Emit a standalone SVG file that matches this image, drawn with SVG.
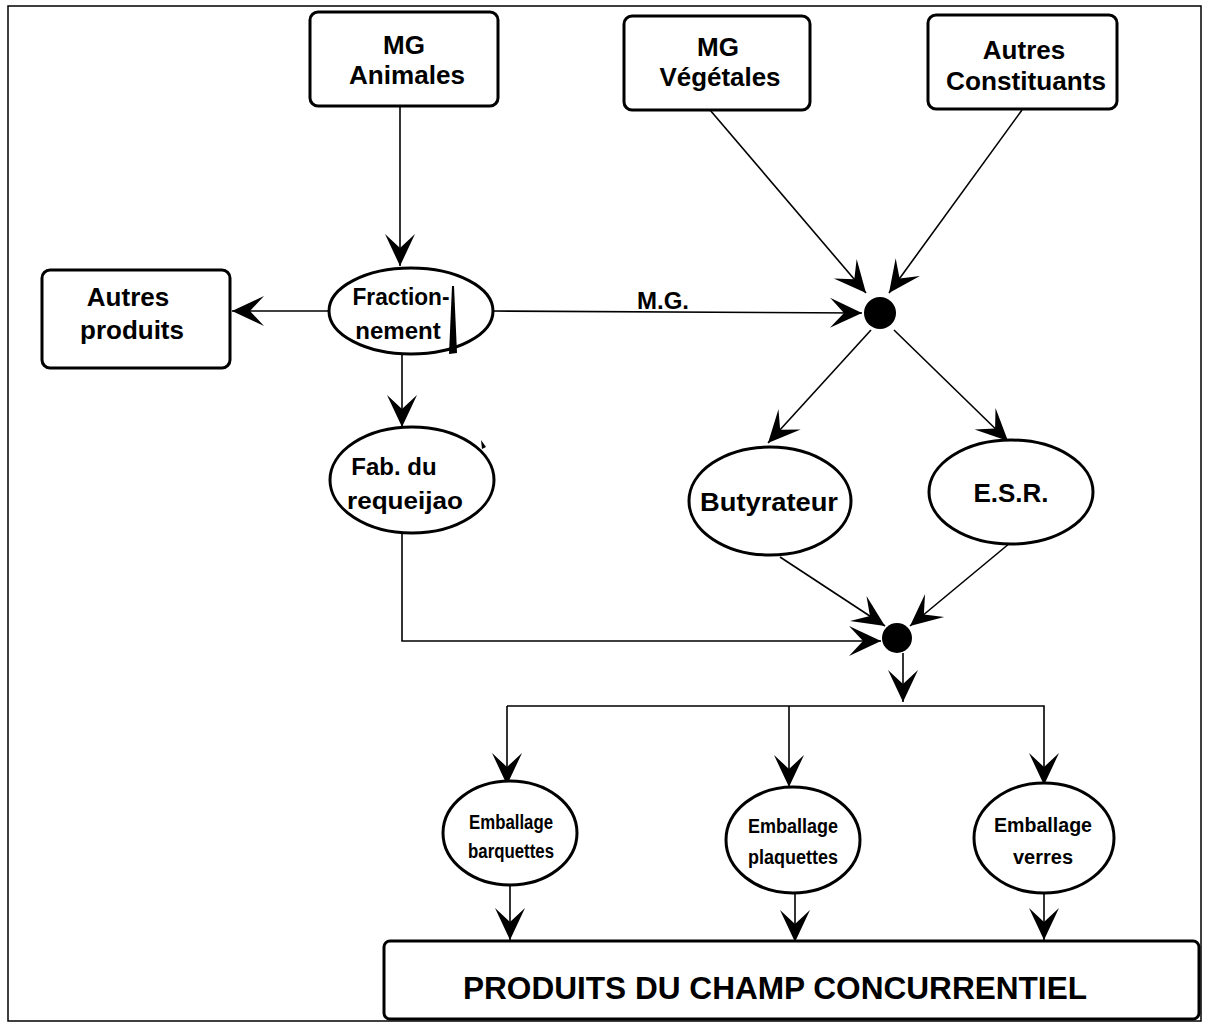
<svg xmlns="http://www.w3.org/2000/svg" width="1209" height="1027" viewBox="0 0 1209 1027">
<style>
.box{fill:#fff;stroke:#000;stroke-width:3}
.ell{fill:#fff;stroke:#000;stroke-width:3}
.ln{fill:none;stroke:#000;stroke-width:1.6}
.t{font-family:"Liberation Sans",Arial,sans-serif;font-weight:bold;fill:#000;text-anchor:middle}
.l26{font-size:26px}
.l24{font-size:24px}
.l20{font-size:20px}
</style>
<defs>
<marker id="ah" markerUnits="userSpaceOnUse" viewBox="-34 -17 36 34" refX="0" refY="0" markerWidth="36" markerHeight="34" orient="auto">
<path d="M0,0 L-32,-15 L-18,0 L-32,15 Z" fill="#000"/>
</marker>
</defs>
<rect x="0" y="0" width="1209" height="1027" fill="#fff"/>
<rect x="8" y="6" width="1193" height="1015" fill="none" stroke="#000" stroke-width="1.5"/>

<g id="connectors">
<line class="ln" x1="400" y1="106" x2="400" y2="266" marker-end="url(#ah)"/>
<line class="ln" x1="330" y1="311" x2="232" y2="311" marker-end="url(#ah)"/>
<line class="ln" x1="492" y1="311" x2="862" y2="313" marker-end="url(#ah)"/>
<text class="t l24" x="663" y="309">M.G.</text>
<line class="ln" x1="710" y1="110" x2="866" y2="293" marker-end="url(#ah)"/>
<line class="ln" x1="1022" y1="110" x2="889" y2="293" marker-end="url(#ah)"/>
<line class="ln" x1="871" y1="330" x2="768" y2="443" marker-end="url(#ah)"/>
<line class="ln" x1="894" y1="330" x2="1008" y2="441" marker-end="url(#ah)"/>
<line class="ln" x1="402" y1="355" x2="402" y2="427" marker-end="url(#ah)"/>
<polyline class="ln" points="402,533 402,641 881,641" marker-end="url(#ah)"/>
<line class="ln" x1="780" y1="557" x2="885" y2="626" marker-end="url(#ah)"/>
<line class="ln" x1="1010" y1="543" x2="910" y2="626" marker-end="url(#ah)"/>
<line class="ln" x1="903" y1="653" x2="903" y2="702" marker-end="url(#ah)"/>
<polyline class="ln" points="507,706 1044,706 1044,785" marker-end="url(#ah)"/>
<line class="ln" x1="507" y1="706" x2="507" y2="785" marker-end="url(#ah)"/>
<line class="ln" x1="789" y1="706" x2="789" y2="787" marker-end="url(#ah)"/>
<line class="ln" x1="510" y1="885" x2="510" y2="940" marker-end="url(#ah)"/>
<line class="ln" x1="795" y1="891" x2="795" y2="942" marker-end="url(#ah)"/>
<line class="ln" x1="1044" y1="893" x2="1044" y2="940" marker-end="url(#ah)"/>
</g>

<g id="mg-animales">
<rect class="box" x="310" y="12" width="188" height="94" rx="8"/>
<text class="t l26" x="404" y="54">MG</text>
<text class="t l26" x="407" y="84" textLength="116" lengthAdjust="spacingAndGlyphs">Animales</text>
</g>
<g id="mg-vegetales">
<rect class="box" x="624" y="16" width="186" height="94" rx="8"/>
<text class="t l26" x="718" y="56">MG</text>
<text class="t l26" x="720" y="86" textLength="121" lengthAdjust="spacingAndGlyphs">Végétales</text>
</g>
<g id="autres-constituants">
<rect class="box" x="928" y="15" width="189" height="94" rx="8"/>
<text class="t l26" x="1024" y="59">Autres</text>
<text class="t l26" x="1026" y="90" textLength="160" lengthAdjust="spacingAndGlyphs">Constituants</text>
</g>
<g id="autres-produits">
<rect class="box" x="42" y="270" width="188" height="98" rx="8"/>
<text class="t l26" x="128" y="306">Autres</text>
<text class="t l26" x="132" y="339">produits</text>
</g>
<g id="fractionnement">
<ellipse class="ell" cx="411" cy="311" rx="82" ry="43"/>
<text class="t l24" x="401" y="305" textLength="97" lengthAdjust="spacingAndGlyphs">Fraction-</text>
<text class="t l24" x="398" y="339">nement</text>
<path d="M452,286 L454,286 L457,353 L449,354 Z" fill="#000"/>
</g>
<g id="fab-requeijao">
<ellipse class="ell" cx="412" cy="480" rx="82" ry="53"/>
<path d="M481,440 L486,447 L482,449 Z" fill="#000"/>
<text class="t l24" x="394" y="475">Fab. du</text>
<text class="t l24" x="405" y="509" textLength="116" lengthAdjust="spacingAndGlyphs">requeijao</text>
</g>
<g id="dot1"><circle cx="880" cy="313" r="16" fill="#000"/></g>
<g id="butyrateur">
<ellipse class="ell" cx="770" cy="501" rx="81" ry="54"/>
<text class="t l26" x="769" y="511" textLength="138" lengthAdjust="spacingAndGlyphs">Butyrateur</text>
</g>
<g id="esr">
<ellipse class="ell" cx="1011" cy="492" rx="82" ry="52"/>
<text class="t l26" x="1011" y="502">E.S.R.</text>
</g>
<g id="dot2"><circle cx="897" cy="638" r="15" fill="#000"/></g>
<g id="emb-barquettes">
<ellipse class="ell" cx="510" cy="833" rx="67" ry="52"/>
<text class="t l20" x="511" y="829" textLength="84" lengthAdjust="spacingAndGlyphs">Emballage</text>
<text class="t l20" x="511" y="858" textLength="86" lengthAdjust="spacingAndGlyphs">barquettes</text>
</g>
<g id="emb-plaquettes">
<ellipse class="ell" cx="793" cy="840" rx="67" ry="53"/>
<text class="t l20" x="793" y="833" textLength="90" lengthAdjust="spacingAndGlyphs">Emballage</text>
<text class="t l20" x="793" y="864" textLength="90" lengthAdjust="spacingAndGlyphs">plaquettes</text>
</g>
<g id="emb-verres">
<ellipse class="ell" cx="1044" cy="838" rx="70" ry="55"/>
<text class="t l20" x="1043" y="832" textLength="98" lengthAdjust="spacingAndGlyphs">Emballage</text>
<text class="t l20" x="1043" y="864">verres</text>
</g>
<g id="produits">
<rect class="box" x="384" y="941" width="815" height="78" rx="6"/>
<text class="t" style="font-size:32px" x="775" y="999" textLength="624" lengthAdjust="spacingAndGlyphs">PRODUITS DU CHAMP CONCURRENTIEL</text>
</g>
</svg>
